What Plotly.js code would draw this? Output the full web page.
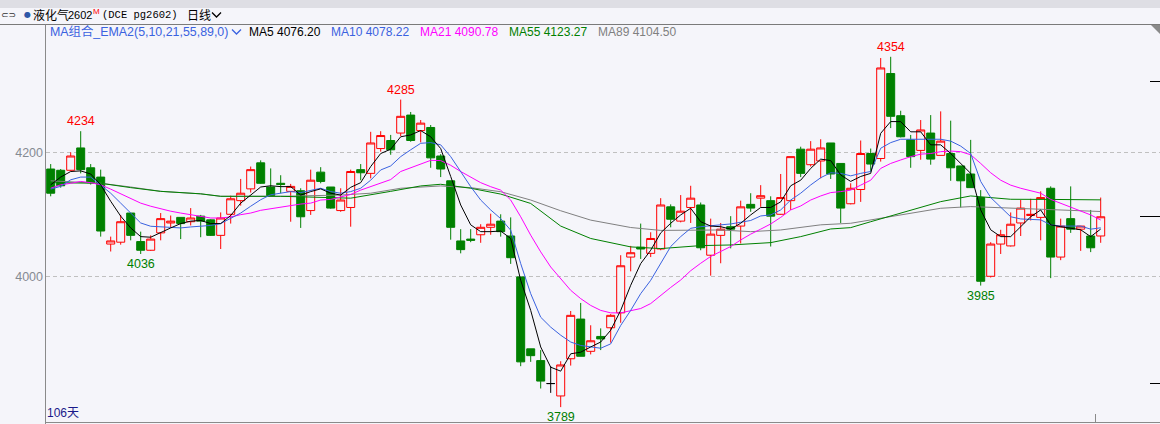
<!DOCTYPE html>
<html><head><meta charset="utf-8">
<script src="https://cdn.plot.ly/plotly-3.0.1.min.js"></script>
<style>html,body{margin:0;padding:0;background:#f5f5fa;overflow:hidden}#chart{width:1160px;height:424px}</style>
</head><body><div id="chart"></div>
<script>
// ---- data ----
const openP  = [4173,4171,4171,4207,4175,4160,4052,4055,4102,4056,4042,4070,4086,4095,4088,4097,4091,4066,4100,4122,
                4141,4183,4144,4150,4137,4138,4106,4168,4144,4106,4111,4172,4166,4206,4219,4231,4260,4235,4240,4194,
                4154,4057,4060,4067,4079,4089,4065,3999,3883,3864,3827,3807,3867,3931,3879,3903,3917,3941,4031,4047,
                4037,4044,4112,4089,4111,4115,4034,4066,4080,4081,4116,4126,4122,4100,4122,4205,4180,4186,4215,4182,
                4117,4140,4198,4190,4327,4259,4220,4203,4231,4195,4198,4178,4165,4127,4000,4052,4049,4086,4098,4095,
                4142,4031,4093,4076,4065,4065];
const highP  = [4181,4173,4200,4234,4181,4172,4064,4099,4102,4072,4066,4102,4098,4095,4110,4099,4092,4103,4130,4157,
                4177,4187,4174,4163,4149,4142,4172,4176,4144,4142,4172,4181,4233,4234,4228,4285,4265,4252,4244,4197,
                4154,4076,4076,4084,4101,4100,4095,3999,3883,3881,3855,3863,3944,3957,3921,3916,3939,4034,4049,4085,
                4071,4126,4116,4131,4146,4119,4093,4086,4097,4122,4134,4147,4129,4165,4193,4209,4218,4221,4215,4182,
                4150,4219,4206,4352,4354,4267,4228,4252,4260,4266,4251,4178,4220,4139,4055,4075,4103,4123,4125,4137,
                4145,4093,4145,4081,4107,4127];
const lowP   = [4129,4143,4170,4166,4148,4064,4040,4051,4058,4036,4041,4058,4078,4060,4082,4063,4065,4044,4085,4114,
                4135,4149,4130,4134,4088,4078,4099,4150,4109,4104,4080,4155,4158,4201,4196,4226,4217,4216,4175,4160,
                4059,4037,4055,4054,4067,4064,4020,3855,3862,3819,3812,3789,3856,3871,3874,3881,3893,3925,4008,4028,
                4031,4042,4079,4087,4086,4042,4001,4021,4045,4053,4104,4112,4048,4099,4107,4160,4177,4158,4157,4086,
                4116,4120,4169,4185,4239,4224,4175,4188,4180,4195,4154,4111,4143,3985,3998,4036,4048,4065,4090,4058,
                3997,4026,4070,4041,4039,4054];
const closeP = [4134,4146,4194,4172,4151,4073,4057,4088,4066,4042,4060,4093,4089,4085,4094,4089,4066,4094,4125,4134,
                4172,4150,4130,4148,4145,4096,4155,4153,4110,4123,4169,4167,4215,4227,4204,4258,4219,4247,4191,4173,
                4079,4043,4058,4079,4084,4072,4030,3862,3872,3831,3827,3857,3937,3871,3896,3899,3937,4017,4038,4044,
                4061,4115,4092,4105,4126,4046,4068,4076,4076,4112,4110,4130,4097,4127,4193,4166,4205,4207,4165,4110,
                4142,4198,4181,4336,4258,4225,4193,4236,4189,4218,4175,4154,4143,3992,4052,4067,4084,4110,4100,4127,
                4031,4081,4076,4081,4046,4096];

const ma5  = [4147.5,4160,4169,4170,4165,4147.5,4121,4097,4078,4064,4063,4071,4078,4085,4089,4090,4085,4085,4098,4118,
              4131.5,4144,4146,4144.6,4144.6,4131,4136.6,4141,4134,4131,4143.5,4151,4177,4198,4205,4225,4228,4235,4225,4206,
              4161,4115,4083,4072,4072,4073,4061,3993.5,3945,3886,3853.4,3847,3875,3877.6,3886,3894,3913,3945,3985.5,4020.5,
              4042,4070,4085.5,4099,4109.7,4088,4081,4080,4076,4085.5,4099,4111,4111,4120,4146,4155,4174,4189,4186.6,4163.4,
              4153,4161,4166,4230.6,4249.5,4249.5,4233,4233,4212,4212,4198,4182,4166,4107,4075,4064,4064,4080,4096,4107,
              4083,4080,4077.4,4075,4064,4076.20];
const ma10 = [4140.6,4145,4155.6,4160,4160,4147.5,4134,4118,4102,4086,4080.7,4079.6,4078,4078,4079.6,4080.7,4082,4085,4094,4102,
              4113,4123.5,4131.5,4134,4136.6,4135,4139,4142,4136.6,4134,4136.6,4142,4155,4171.5,4178,4193,4204,4214.5,4215.6,4212,
              4193,4169,4144.6,4123,4107,4093,4074.4,4020.5,3972,3934,3918,3905,3894,3888.4,3886,3884,3891,3920.7,3945,3972,
              3993.5,4020,4048,4064,4077.4,4080,4081,4083,4084.4,4086.6,4090,4097.3,4099,4107,4123,4134,4147.3,4159,4167,4166,
              4162,4166,4169,4206.5,4215.6,4221,4221,4221.5,4221.5,4221,4218,4210,4198,4153,4127,4111,4096,4092.5,4092,4091,
              4083,4081,4081,4081,4076,4078.22];
const ma21 = [4142,4147.5,4150,4153,4151,4147.5,4140.6,4133,4126,4118,4113,4108.5,4105,4102,4099.4,4096.8,4094,4094,4095.7,4099.4,
              4102,4106.4,4109,4112,4115,4116.5,4118,4123,4124,4127.4,4132,4139,4145,4150,4156,4169,4175,4182,4187,4186.6,
              4179,4169,4160,4151,4144.5,4139,4123,4096,4066.3,4039.4,4015,3996,3977.4,3964,3953,3945,3941,3941,3944,3948,
              3956,3969.6,3982,3994,4009,4021,4032,4040,4048,4058.6,4068,4076,4084.4,4095,4107,4113.4,4123,4129.6,4135,4136.6,
              4139,4147,4155,4174,4182,4187.6,4193,4197,4198,4201,4202,4201,4196,4182,4167,4155,4147,4142,4138,4134,
              4124,4118,4111,4106,4099,4090.78];
const ma55Day = [0,5,8,11,15,17,23,30,34,37,39,42,45,48,51,54,58,61,65,68,72,75,78,80,82,86,89,92,96,100,105];
const ma55    = [4151,4150,4143,4137,4133,4129,4129,4126,4137,4145.7,4148.4,4142,4132.6,4117.5,4081,4061,4047.4,4044.7,4049.5,4050.5,
                 4054.3,4064,4076.3,4078.5,4088,4107,4120.4,4129.6,4124.2,4124,4123.27];
const ma89Day = [0,5,8,11,15,17,23,29,32,35,39,42,45,48,51,54,58,61,67,70,73,77,80,82,86,89,92,96,101,105];
const ma89    = [4154,4150,4144,4137,4133,4129,4129,4131,4134,4142,4145.7,4143,4136.4,4123,4105.7,4090.6,4078.7,4074,4074.7,4072,
                 4074.7,4083,4085.5,4091,4101.6,4109.7,4112.4,4109.7,4107,4104.50];
const markDays = [3, 9, 35, 51, 84, 93];
const markKind = ['H','L','H','L','H','L'];
const yTicks = [4000, 4200];

// ---- build ----
const BG = '#f5f5fa';
const days = openP.map((_, i) => i);
const normal = days.filter(i => openP[i] !== closeP[i]);
const doji = days.filter(i => openP[i] === closeP[i]);
const pick = (arr, idx) => idx.map(i => arr[i]);

function candles(idx, inc, incFill, dec, decFill) {
  return {type:'candlestick', x: idx, open: pick(openP, idx), high: pick(highP, idx),
    low: pick(lowP, idx), close: pick(closeP, idx), whiskerwidth: 0, hoverinfo: 'skip',
    increasing: {line: {color: inc, width: 1}, fillcolor: incFill},
    decreasing: {line: {color: dec, width: 1}, fillcolor: decFill}};
}
function maLine(x, y, color) {
  return {type:'scatter', mode:'lines', x: x, y: y, line:{color: color, width: 1}, hoverinfo:'skip'};
}
const C5='#000000', C10='#3a62e0', C21='#ff00ff', C55='#008000', C89='#808080';
const traces = [
  maLine(ma89Day, ma89, C89),
  maLine(ma55Day, ma55, C55),
  maLine(days, ma21, C21),
  maLine(days, ma10, C10),
  maLine(days, ma5, C5),
  candles(normal, '#ff0000', BG, '#008000', '#008000'),
  candles(doji, '#000000', '#000000', '#000000', '#000000')
];

// pixel -> paper helpers (plot area: x 46..1160, y 24..422)
const PL = 46, PW = 1114, PT = 24, PH = 398;
const px = x => (x - PL) / PW;
const py = y => (PT + PH - y) / PH;

const annotations = [];
markDays.forEach((d, k) => {
  const hi = markKind[k] === 'H';
  annotations.push({x: d, y: hi ? highP[d] : lowP[d], xref:'x', yref:'y', showarrow:false,
    text: String(hi ? highP[d] : lowP[d]), yanchor: hi ? 'bottom' : 'top', xanchor:'center',
    yshift: hi ? 1 : -1, font:{family:'Liberation Sans, Arial', size:12.5, color: hi ? '#ff0000' : '#008000'}});
});
function txt(x, y, text, color, size, family) {
  annotations.push({x: px(x), y: py(y), xref:'paper', yref:'paper', text: text, showarrow:false,
    xanchor:'left', yanchor:'middle', borderpad:0,
    font:{family: family || 'Liberation Sans, Noto Sans CJK SC', size: size || 12, color: color}});
}
// header row
txt(0, 15, '⊂⊃', '#333333', 9, 'DejaVu Sans');
txt(23, 15, '●', '#2e58a8', 8, 'DejaVu Sans');
txt(32, 15, '液化气', '#000000', 12, 'Noto Sans CJK SC');
txt(67, 15.5, '2602', '#000000', 11, 'Liberation Sans');
txt(92, 11.5, 'M', '#ff0000', 8, 'Liberation Sans');
txt(101, 15.5, '(DCE pg2602)', '#000000', 10.5, 'Liberation Mono');
txt(186, 15, '日线', '#000000', 12, 'Noto Sans CJK SC');
// legend row
txt(49, 32, 'MA组合_EMA2(5,10,21,55,89,0)', '#3a62e0', 12.4);
txt(248, 32, 'MA5 ' + ma5[ma5.length-1].toFixed(2), C5, 12);
txt(330, 32, 'MA10 ' + ma10[ma10.length-1].toFixed(2), C10, 12);
txt(419, 32, 'MA21 ' + ma21[ma21.length-1].toFixed(2), C21, 12);
txt(508, 32, 'MA55 ' + ma55[ma55.length-1].toFixed(2), C55, 12);
txt(597, 32, 'MA89 ' + ma89[ma89.length-1].toFixed(2), C89, 12);
// bottom-left day count
txt(46, 413, days.length + '天', '#1a1a8a', 12);

function seg(x0, y0, x1, y1, color, w) {
  return {type:'line', xref:'paper', yref:'paper', x0: px(x0), y0: py(y0), x1: px(x1), y1: py(y1),
    line:{color: color, width: w || 1}, layer:'above'};
}
function chevron(x, y, color) {
  return {type:'path', xref:'paper', yref:'paper', layer:'above',
    path: 'M ' + px(x) + ',' + py(y-2.5) + ' L ' + px(x+4.5) + ',' + py(y+2) + ' L ' + px(x+9) + ',' + py(y-2.5),
    line:{color: color, width: 1.3}};
}
const shapes = [
  {type:'rect', xref:'paper', yref:'paper', x0: px(0), x1: px(1160), y0: py(8), y1: py(0),
   fillcolor:'#dedee4', line:{width:0}, layer:'below'},
  seg(0, 24.5, 1160, 24.5, '#7a7a7a', 1),
  seg(45.5, 24.5, 45.5, 424, '#8a8a8a', 1),
  seg(46, 422.5, 1160, 422.5, '#8a8a8a', 1),
  seg(1095.5, 414, 1095.5, 422, '#8a8a8a', 1),
  seg(1150, 81.5, 1160, 81.5, '#000000', 1),
  seg(1140, 216.5, 1160, 216.5, '#000000', 1),
  seg(1150, 383.5, 1160, 383.5, '#000000', 1),
  {type:'path', xref:'paper', yref:'paper', layer:'above',
   path: 'M ' + px(1151) + ',' + py(25) + ' L ' + px(1160) + ',' + py(25) + ' L ' + px(1160) + ',' + py(34) + ' Z',
   fillcolor:'#8a8a8a', line:{width:0}},
  chevron(212, 15, '#000000'),
  chevron(232, 32, '#3a62e0')
];

const layout = {
  width: 1160, height: 424,
  margin: {l: PL, r: 0, t: PT, b: 424 - PT - PH, pad: 0},
  paper_bgcolor: BG, plot_bgcolor: BG,
  showlegend: false, hovermode: false, boxgap: 0.2, boxgroupgap: 0,
  xaxis: {range: [-0.47, 110.93], showgrid: false, zeroline: false, showticklabels: false,
          ticks: '', showline: false, rangeslider: {visible: false}, fixedrange: true},
  yaxis: {range: [3765, 4406.9], tickvals: yTicks, ticktext: yTicks.map(String), showgrid: true,
          gridcolor: '#c0c0c0', griddash: '4px,3px', gridwidth: 1, zeroline: false, showline: false,
          ticks: '', ticklabelstandoff: 2,
          tickfont: {family: 'Liberation Sans, Arial', size: 12.5, color: '#858a92'}, fixedrange: true},
  annotations: annotations,
  shapes: shapes
};
Plotly.newPlot('chart', traces, layout, {displayModeBar: false, staticPlot: true});
</script></body></html>
